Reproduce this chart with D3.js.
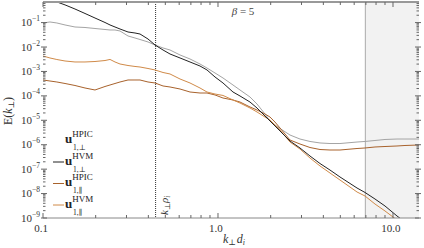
<!DOCTYPE html>
<html><head><meta charset="utf-8">
<script src="https://cdn.jsdelivr.net/npm/d3@7/dist/d3.min.js"></script>
<style>body{margin:0;background:#fff;overflow:hidden}</style>
</head><body>
<svg id="c" width="424" height="248"></svg>
<script>
// ---- data ----
const kPerp = [0.1,0.1096,0.120,0.1336,0.1523,0.1738,0.1982,0.2261,0.2415,0.2579,0.2754,0.3060,0.3355,0.3584,0.3981,0.4365,0.4851,0.5318,0.6067,0.6918,0.7890,0.8652,0.9614,1.068,1.218,1.3356,1.5234,1.6706,1.8561,1.9822,2.117,2.2612,2.5786,2.9411,3.3548,3.8278,4.3652,4.978,6.229,6.918,7.890,9.000,10.54,11.71,14.08];
const hvmPerp = [1.23,0.92,0.70,0.53,0.36,0.236,0.154,0.101,0.080,0.066,0.0547,0.0412,0.0375,0.0341,0.0213,0.0121,0.00755,0.00518,0.00356,0.00244,0.00167,0.00115,5.93e-4,3.37e-4,1.44e-4,9.9e-5,5.6e-5,3.19e-5,1.50e-5,9.35e-6,5.85e-6,3.65e-6,1.42e-6,7.35e-7,3.45e-7,1.70e-7,9.2e-8,4.78e-8,1.69e-8,1.11e-8,6.0e-9,3.1e-9,1.21e-9,6.9e-10,null];
const hpicPerp = [0.0964,0.106,0.0964,0.080,0.066,0.063,0.0573,0.0522,0.0498,0.0498,0.0453,0.0283,0.0234,0.0203,0.0161,0.0121,0.00912,0.00755,0.00472,0.00324,0.00202,0.00138,8.65e-4,5.40e-4,2.79e-4,1.74e-4,9.0e-5,4.65e-5,1.81e-5,9.35e-6,6.43e-6,4.61e-6,2.50e-6,1.71e-6,1.36e-6,1.18e-6,1.12e-6,1.12e-6,1.29e-6,1.36e-6,1.49e-6,1.64e-6,1.71e-6,1.71e-6,1.71e-6];
const hvmPar = [0.00430,0.00356,0.00308,0.00268,0.00244,0.00244,0.00255,0.00280,0.00310,0.00244,0.00202,0.00175,0.00160,0.00152,0.00132,0.00115,9.06e-4,7.87e-4,4.91e-4,3.37e-4,2.10e-4,1.44e-4,1.19e-4,1.04e-4,6.78e-5,5.10e-5,3.19e-5,2.19e-5,1.36e-5,1.03e-5,6.43e-6,4.01e-6,1.29e-6,6.68e-7,2.86e-7,1.35e-7,6.95e-8,3.60e-8,1.16e-8,7.96e-9,3.74e-9,1.94e-9,8.3e-10,null,null];
const hpicPar = [4.47e-4,4.06e-4,3.70e-4,3.21e-4,2.66e-4,2.10e-4,1.74e-4,2.42e-4,2.79e-4,3.21e-4,3.70e-4,4.47e-4,4.47e-4,4.47e-4,3.70e-4,3.37e-4,2.54e-4,2.31e-4,1.91e-4,1.44e-4,1.31e-4,1.31e-4,1.09e-4,8.18e-5,6.78e-5,5.6e-5,3.51e-5,2.64e-5,1.81e-5,1.36e-5,8.5e-6,4.84e-6,1.56e-6,1.07e-6,7.69e-7,6.37e-7,6.08e-7,6.08e-7,7.0e-7,7.35e-7,8.07e-7,8.45e-7,8.87e-7,9.3e-7,9.75e-7];
const xTickValues = [0.1,1,10];
const xTickLabels = ["0.1","1.0","10.0"];
const yTickExps = [-9,-8,-7,-6,-5,-4,-3,-2,-1];
const kRho = 0.44;     // k_perp rho_i marker
const kShade = 6.95;   // start of shaded range
const legendSup = ["HPIC","HVM","HPIC","HVM"];
const legendSub = ["1,⊥","1,⊥","1,∥","1,∥"];

// ---- styles ----
const colors = {hvmPerp:"#222222", hpicPerp:"#a4a4a4", hvmPar:"#d08a48", hpicPar:"#a8622c"};
const FONT = "'Liberation Serif','DejaVu Serif',serif";

const L=43, R=419, T=2, B=218;
const x = d3.scaleLog().domain([0.1, 14.08]).range([L, R]);
const y = d3.scaleLog().domain([1e-9, Math.pow(10,-0.157)]).range([B, T]);

const svg = d3.select("#c");
svg.append("defs").append("clipPath").attr("id","pc")
  .append("rect").attr("x",L).attr("y",T).attr("width",R-L).attr("height",B-T);

// shaded region
svg.append("rect").attr("x",x(kShade)).attr("y",T).attr("width",R-x(kShade)).attr("height",B-T)
  .attr("fill","#f2f2f2");
svg.append("line").attr("x1",x(kShade)).attr("x2",x(kShade)).attr("y1",T).attr("y2",B)
  .attr("stroke","#aaaaaa").attr("stroke-width",1);

// dotted k rho line
svg.append("line").attr("x1",x(kRho)).attr("x2",x(kRho)).attr("y1",T).attr("y2",B)
  .attr("stroke","#333").attr("stroke-width",1).attr("stroke-dasharray","1,1");

// series
const series = [
  {v:hpicPerp, c:colors.hpicPerp},
  {v:hpicPar, c:colors.hpicPar},
  {v:hvmPar, c:colors.hvmPar},
  {v:hvmPerp, c:colors.hvmPerp}
];
const line = d3.line().defined(d=>d[1]!=null).x(d=>x(d[0])).y(d=>y(d[1]));
const g = svg.append("g").attr("clip-path","url(#pc)");
series.forEach(s=>{
  g.append("path").datum(kPerp.map((k,i)=>[k,s.v[i]]))
   .attr("d",line).attr("fill","none").attr("stroke",s.c).attr("stroke-width",1);
});

// spines
svg.append("line").attr("x1",L).attr("x2",R).attr("y1",2).attr("y2",2).attr("stroke","#999").attr("stroke-width",2);
svg.append("line").attr("x1",L).attr("x2",R).attr("y1",B).attr("y2",B).attr("stroke","#888").attr("stroke-width",1);

// ticks
const tickCol = "#666";
const xMinor = [];
[0.1,1,10].forEach(d=>{for(let m=2;m<=9;m++){const v=d*m; if(v<=14.08) xMinor.push(v);}});
const tg = svg.append("g").attr("stroke",tickCol).attr("stroke-width",1);
xTickValues.forEach(v=>{
  tg.append("line").attr("x1",x(v)).attr("x2",x(v)).attr("y1",B).attr("y2",B-5);
  tg.append("line").attr("x1",x(v)).attr("x2",x(v)).attr("y1",T).attr("y2",T+5);
});
xMinor.forEach(v=>{
  tg.append("line").attr("x1",x(v)).attr("x2",x(v)).attr("y1",B).attr("y2",B-3);
  tg.append("line").attr("x1",x(v)).attr("x2",x(v)).attr("y1",T).attr("y2",T+3);
});
const yMajor = yTickExps.map(e=>Math.pow(10,e));
const yMinor = [];
yTickExps.concat([0]).forEach(e=>{for(let m=2;m<=9;m++){const v=m*Math.pow(10,e-1); if(v>=1e-9 && v<=y.domain()[1]) yMinor.push(v);}});
yMajor.forEach(v=>{
  tg.append("line").attr("x1",L-2).attr("x2",L+4).attr("y1",y(v)).attr("y2",y(v));
  tg.append("line").attr("x1",R+2).attr("x2",R-4).attr("y1",y(v)).attr("y2",y(v));
});
yMinor.forEach(v=>{
  tg.append("line").attr("x1",L).attr("x2",L+2.5).attr("y1",y(v)).attr("y2",y(v));
  tg.append("line").attr("x1",R).attr("x2",R-2.5).attr("y1",y(v)).attr("y2",y(v));
});

// tick labels
const labCol = "#333";
xTickValues.forEach((v,i)=>{
  svg.append("text").attr("x",x(v)-2).attr("y",B+14).attr("text-anchor","middle")
    .attr("font-family",FONT).attr("font-size",11).attr("fill",labCol).text(xTickLabels[i]);
});
yTickExps.forEach(e=>{
  const t = svg.append("text").attr("x",40).attr("y",y(Math.pow(10,e))+3.5).attr("text-anchor","end")
    .attr("font-family",FONT).attr("fill",labCol);
  t.append("tspan").attr("font-size",11).text("10");
  t.append("tspan").attr("font-size",7.5).attr("dy",-5).text("−"+(-e));
});

// axis labels
const xl = svg.append("text").attr("x",223).attr("y",243).attr("text-anchor","start")
  .attr("font-family",FONT).attr("font-size",12).attr("fill",labCol);
xl.append("tspan").attr("font-style","italic").text("k");
xl.append("tspan").attr("font-size",8).attr("dy",2).text("⊥");
xl.append("tspan").attr("font-style","italic").attr("dy",-2).attr("dx",1).text("d");
xl.append("tspan").attr("font-style","italic").attr("font-size",8).attr("dy",2).text("i");

const yl = svg.append("text").attr("transform","translate(12,111) rotate(-90)").attr("text-anchor","middle")
  .attr("font-family",FONT).attr("font-size",12).attr("fill",labCol);
yl.append("tspan").text("E(");
yl.append("tspan").attr("font-style","italic").text("k");
yl.append("tspan").attr("font-size",8).attr("dy",2).text("⊥");
yl.append("tspan").attr("dy",-2).text(")");

const kr = svg.append("text").attr("transform",`translate(${x(kRho)+12},215) rotate(-90)`)
  .attr("font-family",FONT).attr("font-size",11).attr("fill","#333");
kr.append("tspan").attr("font-style","italic").text("k");
kr.append("tspan").attr("font-size",7.5).attr("dy",2).text("⊥");
kr.append("tspan").attr("font-style","italic").attr("dy",-2).text("ρ");
kr.append("tspan").attr("font-style","italic").attr("font-size",7.5).attr("dy",2).text("i");

const bt = svg.append("text").attr("x",243).attr("y",15).attr("text-anchor","middle")
  .attr("font-family",FONT).attr("font-size",11).attr("fill","#444");
bt.append("tspan").attr("font-style","italic").text("β");
bt.append("tspan").text(" = 5");

// legend
const legY = [140.5,162,183.5,205];
const legCol = [null, colors.hvmPerp, colors.hpicPar, colors.hvmPar];
legY.forEach((ly,i)=>{
  if(legCol[i]) svg.append("line").attr("x1",53).attr("x2",64).attr("y1",ly).attr("y2",ly)
     .attr("stroke",legCol[i]).attr("stroke-width",1);
  const t = svg.append("text").attr("x",65).attr("y",ly+2.5).attr("font-family",FONT).attr("fill","#222");
  t.append("tspan").attr("font-weight","bold").attr("font-size",13).text("u");
  t.append("tspan").attr("font-size",9).attr("dy",-6).text(legendSup[i]);
  svg.append("text").attr("x",73).attr("y",ly+9.5).attr("font-family",FONT).attr("font-size",7.5)
    .attr("fill","#222").text(legendSub[i]);
});
</script>
</body></html>
